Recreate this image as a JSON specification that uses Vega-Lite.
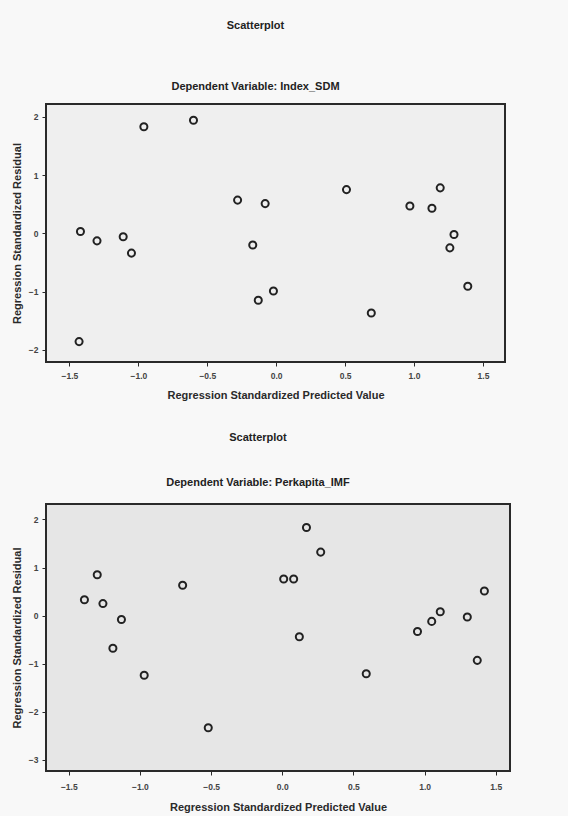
{
  "$schema": "https://vega.github.io/schema/vega-lite/v6.json",
  "background": "#f8f8f8",
  "padding": {"left": 10, "top": 19, "right": 60, "bottom": 6},
  "spacing": 29,
  "config": {
    "font": "Liberation Sans",
    "view": {"stroke": "#2a2a2a", "strokeWidth": 2},
    "axis": {
      "domain": false,
      "grid": false,
      "labelFont": "Liberation Sans",
      "labelFontWeight": "bold",
      "labelFontSize": 8.5,
      "labelColor": "#444444",
      "tickColor": "#2a2a2a",
      "tickSize": 4,
      "titleFont": "Liberation Sans",
      "titleFontWeight": "bold",
      "titleFontSize": 11,
      "titleColor": "#2a2a2a"
    },
    "title": {
      "font": "Liberation Sans",
      "fontSize": 11,
      "fontWeight": "bold",
      "color": "#222222",
      "subtitleFont": "Liberation Sans",
      "subtitleFontSize": 11,
      "subtitleFontWeight": "bold",
      "subtitleColor": "#222222",
      "anchor": "middle",
      "dx": -20
    }
  },
  "datasets": {
    "sdm": [
      {"pred": -1.42, "resid": 0.03},
      {"pred": -1.30, "resid": -0.13},
      {"pred": -1.11, "resid": -0.06},
      {"pred": -1.05, "resid": -0.34},
      {"pred": -1.43, "resid": -1.86},
      {"pred": -0.96, "resid": 1.83},
      {"pred": -0.60, "resid": 1.94},
      {"pred": -0.28, "resid": 0.57},
      {"pred": -0.08, "resid": 0.51},
      {"pred": -0.17, "resid": -0.20},
      {"pred": -0.13, "resid": -1.15},
      {"pred": -0.02, "resid": -0.99},
      {"pred": 0.51, "resid": 0.75},
      {"pred": 0.69, "resid": -1.37},
      {"pred": 0.97, "resid": 0.47},
      {"pred": 1.13, "resid": 0.43},
      {"pred": 1.19, "resid": 0.78},
      {"pred": 1.29, "resid": -0.02},
      {"pred": 1.26, "resid": -0.25},
      {"pred": 1.39, "resid": -0.91}
    ],
    "imf": [
      {"pred": -1.39, "resid": 0.33},
      {"pred": -1.30, "resid": 0.85},
      {"pred": -1.26, "resid": 0.25},
      {"pred": -1.13, "resid": -0.08},
      {"pred": -1.19, "resid": -0.68},
      {"pred": -0.97, "resid": -1.24},
      {"pred": -0.70, "resid": 0.63},
      {"pred": -0.52, "resid": -2.33},
      {"pred": 0.01, "resid": 0.76},
      {"pred": 0.08, "resid": 0.76},
      {"pred": 0.17, "resid": 1.83},
      {"pred": 0.27, "resid": 1.32},
      {"pred": 0.12, "resid": -0.44},
      {"pred": 0.59, "resid": -1.21},
      {"pred": 0.95, "resid": -0.33},
      {"pred": 1.05, "resid": -0.12},
      {"pred": 1.11, "resid": 0.08},
      {"pred": 1.30, "resid": -0.03},
      {"pred": 1.42, "resid": 0.51},
      {"pred": 1.37, "resid": -0.93}
    ]
  },
  "vconcat": [
    {
      "data": {"name": "sdm"},
      "width": 459,
      "height": 258,
      "title": {
        "text": "Scatterplot",
        "subtitle": "Dependent Variable: Index_SDM",
        "subtitlePadding": 50,
        "offset": 12
      },
      "view": {"fill": "#efefef"},
      "mark": {"type": "point", "shape": "circle", "filled": false, "stroke": "#222222", "strokeWidth": 2, "size": 50, "opacity": 1},
      "encoding": {
        "x": {
          "field": "pred", "type": "quantitative",
          "scale": {"domain": [-1.67, 1.66], "nice": false, "zero": false},
          "axis": {"values": [-1.5, -1.0, -0.5, 0.0, 0.5, 1.0, 1.5], "format": ".1f", "title": "Regression Standardized Predicted Value", "labelPadding": 5, "titlePadding": 10}
        },
        "y": {
          "field": "resid", "type": "quantitative",
          "scale": {"domain": [-2.21, 2.22], "nice": false, "zero": false},
          "axis": {"values": [-2, -1, 0, 1, 2], "format": "d", "title": "Regression Standardized Residual", "labelPadding": 4, "titlePadding": 6}
        }
      }
    },
    {
      "data": {"name": "imf"},
      "width": 464,
      "height": 267,
      "title": {
        "text": "Scatterplot",
        "subtitle": "Dependent Variable: Perkapita_IMF",
        "subtitlePadding": 34,
        "offset": 16
      },
      "view": {"fill": "#e6e6e6"},
      "mark": {"type": "point", "shape": "circle", "filled": false, "stroke": "#222222", "strokeWidth": 2, "size": 50, "opacity": 1},
      "encoding": {
        "x": {
          "field": "pred", "type": "quantitative",
          "scale": {"domain": [-1.66, 1.60], "nice": false, "zero": false},
          "axis": {"values": [-1.5, -1.0, -0.5, 0.0, 0.5, 1.0, 1.5], "format": ".1f", "title": "Regression Standardized Predicted Value", "labelPadding": 7, "titlePadding": 11}
        },
        "y": {
          "field": "resid", "type": "quantitative",
          "scale": {"domain": [-3.23, 2.32], "nice": false, "zero": false},
          "axis": {"values": [-3, -2, -1, 0, 1, 2], "format": "d", "title": "Regression Standardized Residual", "labelPadding": 4, "titlePadding": 6}
        }
      }
    }
  ]
}
